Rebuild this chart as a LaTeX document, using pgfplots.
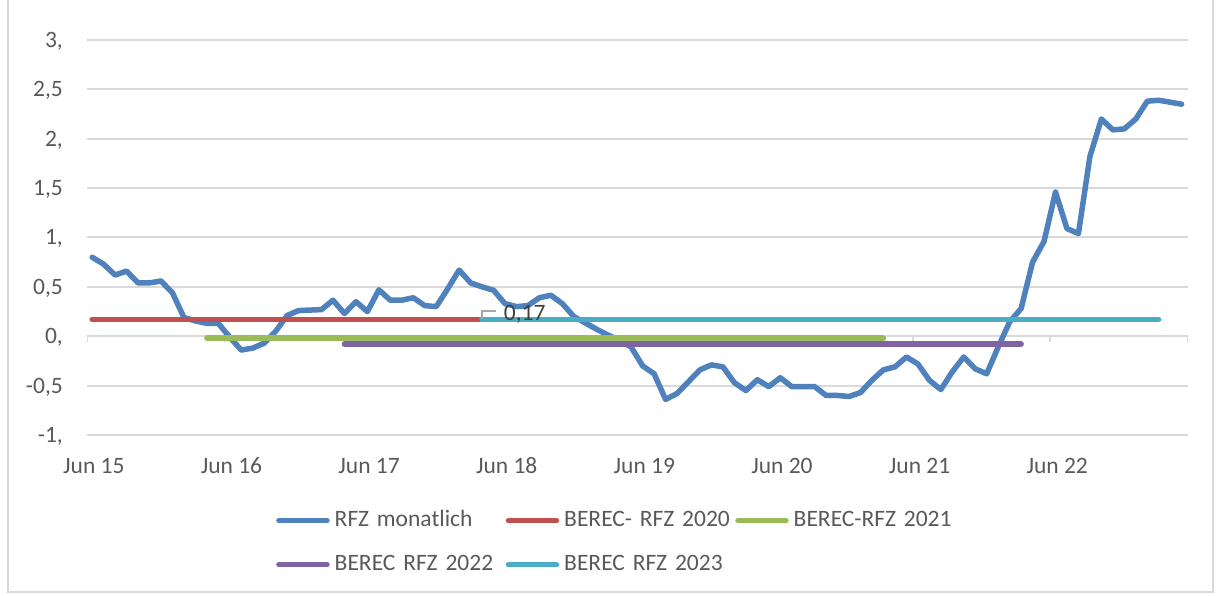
\documentclass[border=0pt]{standalone}
\usepackage{pgfplots}
\pgfplotsset{compat=1.18}
\usepackage{fontspec}
\setmainfont{Carlito}
\definecolor{cBlue}{HTML}{4F81BD}
\definecolor{cRed}{HTML}{C0504D}
\definecolor{cGreen}{HTML}{9BBB59}
\definecolor{cPurple}{HTML}{8064A2}
\definecolor{cCyan}{HTML}{4BACC6}
\definecolor{gridc}{HTML}{D9D9D9}
\definecolor{labc}{HTML}{595959}
\definecolor{labdark}{HTML}{404040}
\definecolor{leaderc}{HTML}{A6A6A6}
\begin{document}
\fontsize{23.5bp}{28bp}\selectfont
\begin{tikzpicture}
\path[draw=gridc, line width=1.5bp] (8bp,4bp) rectangle (1213bp,640bp);
\begin{axis}[
  at={(87bp,161bp)}, anchor=south west, scale only axis,
  width=1101bp, height=395bp,
  xmin=0, xmax=96, ymin=-1, ymax=3,
  axis line style={draw=none},
  major tick length=0pt,
  xtick={0.6,12.6,24.6,36.6,48.6,60.6,72.6,84.6},
  xticklabels={Jun 15,Jun 16,Jun 17,Jun 18,Jun 19,Jun 20,Jun 21,Jun 22},
  ytick={-1,-0.5,0,0.5,1,1.5,2,2.5,3},
  yticklabels={{-1,},{-0,5},{0,},{0,5},{1,},{1,5},{2,},{2,5},{3,}},
  ymajorgrids, grid style={color=gridc, line width=2bp},
  tick label style={text=labc},
  xticklabel style={anchor=base, yshift=-39bp},
  yticklabel style={anchor=base east, inner sep=0pt, xshift=-24bp, yshift=-7.4bp},
  legend columns=3,
  legend cell align=left,
  legend image code/.code={\draw[#1, line cap=round] (0bp,0bp) -- (48bp,0bp);},
  legend style={at={(0.1717,-0.1899)}, anchor=north west, draw=none, fill=none,
    inner sep=0pt, column sep=5bp, row sep=23bp,
    nodes={text width=166bp, inner sep=0pt, text height=16bp, text depth=5bp, text=labc, align=left}},
  every axis plot/.append style={line width=5.5bp, line cap=round, line join=round, mark=none},
]
\draw[gridc, line width=2bp] (axis cs:0,0) -- (axis cs:96,0);
\pgfplotsinvokeforeach{0,12,24,36,48,60,72,84,96}{\draw[gridc, line width=2bp] (axis cs:#1,0) -- ([yshift=-6bp]axis cs:#1,0);}

\addplot[cBlue] coordinates {
(0.45,0.80) (1.45,0.73) (2.45,0.62) (3.45,0.66) (4.45,0.54) (5.45,0.54) (6.45,0.56) (7.45,0.44)
(8.45,0.19) (9.45,0.155) (10.45,0.13) (11.45,0.13) (12.45,-0.01) (13.45,-0.14) (14.45,-0.12) (15.45,-0.07)
(16.45,0.05) (17.45,0.21) (18.45,0.26) (19.45,0.265) (20.45,0.27) (21.45,0.365) (22.45,0.23) (23.45,0.35)
(24.45,0.25) (25.45,0.47) (26.45,0.365) (27.45,0.365) (28.45,0.39) (29.45,0.31) (30.45,0.30) (31.45,0.48)
(32.45,0.67) (33.45,0.54) (34.45,0.50) (35.45,0.466) (36.45,0.33) (37.45,0.30) (38.45,0.31) (39.45,0.39)
(40.45,0.415) (41.45,0.33) (42.45,0.20) (43.45,0.135) (44.45,0.07) (45.45,0.01) (46.45,-0.04) (47.45,-0.11)
(48.45,-0.30) (49.45,-0.38) (50.45,-0.64) (51.45,-0.58) (52.45,-0.46) (53.45,-0.34) (54.45,-0.29) (55.45,-0.31)
(56.45,-0.47) (57.45,-0.55) (58.45,-0.44) (59.45,-0.51) (60.45,-0.42) (61.45,-0.51) (62.45,-0.51) (63.45,-0.51)
(64.45,-0.60) (65.45,-0.60) (66.45,-0.61) (67.45,-0.57) (68.45,-0.445) (69.45,-0.34) (70.45,-0.31) (71.45,-0.21)
(72.45,-0.28) (73.45,-0.445) (74.45,-0.54) (75.45,-0.36) (76.45,-0.21) (77.45,-0.33) (78.45,-0.38) (79.45,-0.11)
(80.45,0.145) (81.45,0.28) (82.45,0.75) (83.45,0.96) (84.45,1.46) (85.45,1.09) (86.45,1.04) (87.45,1.82)
(88.45,2.20) (89.45,2.09) (90.45,2.10) (91.45,2.20) (92.45,2.38) (93.45,2.39) (94.45,2.37) (95.45,2.35)
};
\addlegendentry{RFZ monatlich}
\addplot[cRed] coordinates {(0.45,0.17) (34.45,0.17)};
\addlegendentry{BEREC- RFZ 2020}
\addplot[cGreen] coordinates {(10.45,-0.02) (69.45,-0.02)};
\addlegendentry{BEREC-RFZ 2021}
\addplot[cPurple] coordinates {(22.45,-0.08) (81.45,-0.08)};
\addlegendentry{BEREC RFZ 2022}
\addplot[cCyan] coordinates {(34.45,0.17) (93.45,0.17)};
\addlegendentry{BEREC RFZ 2023}

\draw[leaderc, line width=2bp] (axis cs:34.45,0.17) -- ([yshift=8bp]axis cs:34.45,0.17) -- ([xshift=14bp,yshift=8bp]axis cs:34.45,0.17);
\addplot[draw=none, forget plot, nodes near coords={0,17},
  every node near coord/.append style={anchor=base west, xshift=19bp, yshift=-1bp, inner sep=0pt, text=labdark}]
  coordinates {(34.45,0.17)};
\end{axis}
\pgfresetboundingbox
\path[use as bounding box] (0,0) rectangle (1221bp,596bp);
\end{tikzpicture}
\end{document}
